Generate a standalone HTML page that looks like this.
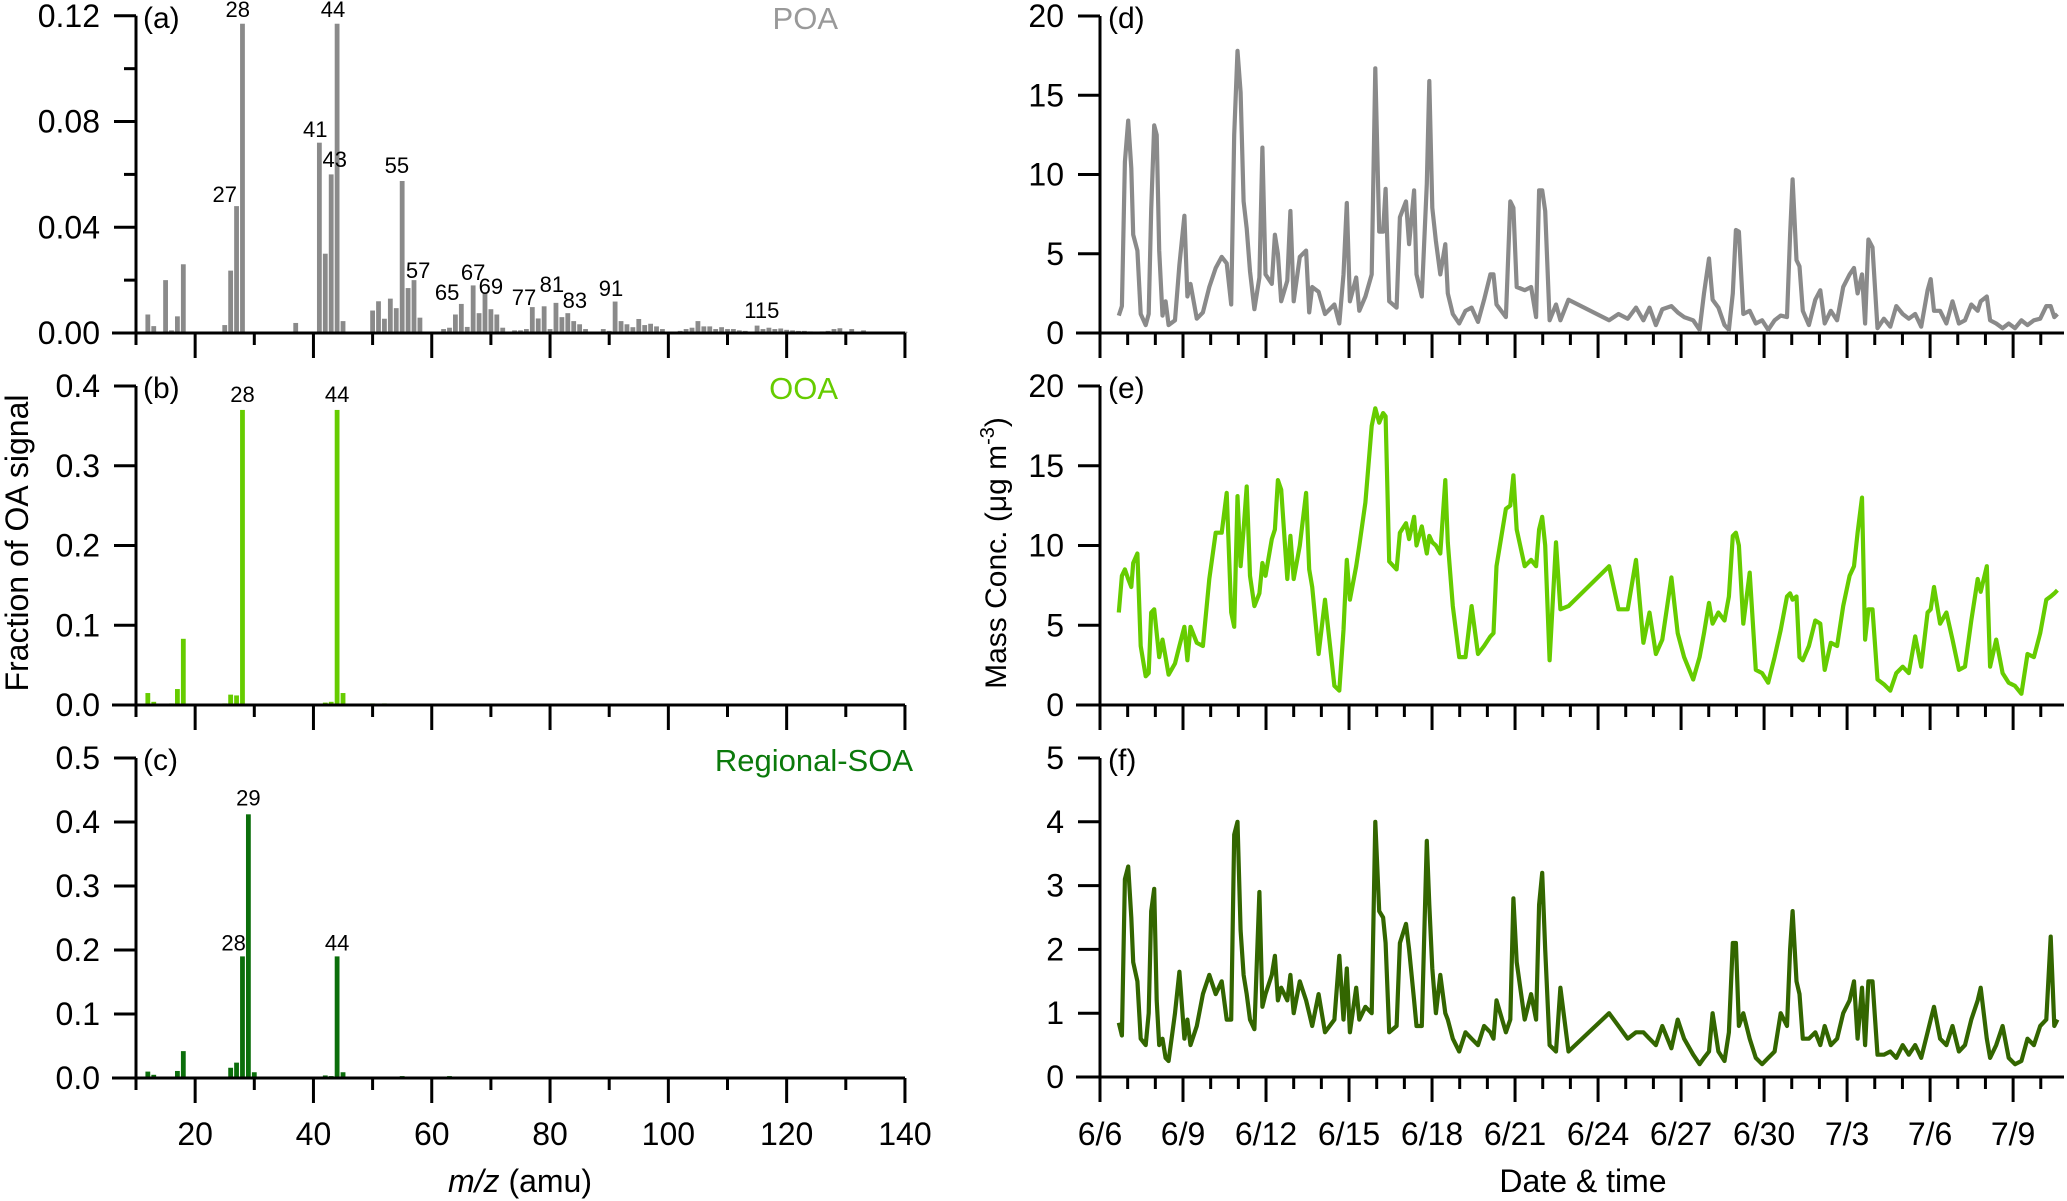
<!DOCTYPE html>
<html><head><meta charset="utf-8"><style>
html,body{margin:0;padding:0;background:#fff}
svg{display:block}
text{font-family:"Liberation Sans",Arial,sans-serif}
</style></head><body>
<svg id="fig" width="2067" height="1201" viewBox="0 0 2067 1201" xmlns="http://www.w3.org/2000/svg"></svg>
<script>
// ---------- data: mass spectra (m/z 12..140) ----------
const mzStart = 12;
const poaValues = [.007,.0026,.0003,.020,.001,.0063,.026,0,0,0,0,0,.0005,.003,.0236,.048,.117,0,0,0,0,0,0,0,0,.0038,0,0,0,.072,.030,.060,.117,.0045,0,0,.0005,.0005,.0085,.012,.0054,.013,.0094,.0575,.017,.020,.0058,.0005,.0005,.0005,.0015,.002,.007,.011,.0023,.018,.0075,.015,.009,.007,.002,.0005,.001,.001,.0015,.0098,.0055,.0101,.0015,.0114,.006,.0075,.0045,.0033,.0015,.0004,.0005,.0015,.0008,.0119,.0045,.0033,.0022,.0053,.003,.0035,.0025,.0015,.0003,.0004,.0008,.0015,.002,.0045,.0025,.0025,.0015,.0022,.0015,.0015,.001,.0008,.0005,.0028,.0015,.002,.0015,.0017,.0012,.001,.0008,.0008,.0006,.0005,.0006,.0008,.0015,.0018,.0005,.0015,.0004,.001,.0005,.0005,.0005,.0005,.0005,.0005,.0005];
const ooaValues = [.015,.004,0,0,.002,.02,.083,0,0,0,0,0,0,.002,.013,.012,.37,0,.001,0,0,0,0,0,0,0,0,0,0,0,.003,.004,.37,.015,0,0,0,.001,.002,0,.002,.001,.001,0,0,.001,0,0,0,0,0,.001,0,0,0,.001];
const soaValues = [.01,.005,0,0,0,.011,.042,0,0,0,0,0,0,0,.016,.024,.19,.412,.009,0,0,0,0,0,0,0,0,0,0,0,.004,.003,.19,.009,0,0,0,.002,0,0,0,.002,0,.003,0,0,0,0,0,0,0,.003];
// bar labels: text, m/z position, label baseline value
const poaLabelText = ["28","44","27","41","43","55","57","65","67","69","77","81","83","91","115"];
const poaLabelMz   = [27.2,43.3,25.0,40.3,43.6,54.1,57.7,62.6,67.0,70.0,75.6,80.3,84.2,90.3,115.8];
const poaLabelVal  = [.1196,.1196,.0496,.0742,.0628,.0605,.0208,.0125,.020,.0148,.0106,.0155,.0095,.014,.0057];
const ooaLabelText = ["28","44"], ooaLabelMz=[28,44], ooaLabelVal=[.38,.38];
const soaLabelText = ["29","28","44"], soaLabelMz=[29,26.5,44], soaLabelVal=[.426,.199,.199];

// ---------- data: time series (days since 6/6 00:00) ----------
const tDays = [0.68,0.79,0.90,1.02,1.13,1.20,1.35,1.47,1.65,1.76,1.85,1.96,2.05,2.14,2.26,2.37,2.48,2.71,2.87,3.05,3.16,3.27,3.50,3.72,3.95,4.18,4.40,4.58,4.74,4.85,4.97,5.08,5.19,5.30,5.42,5.58,5.76,5.87,5.98,6.21,6.32,6.43,6.55,6.77,6.88,7.00,7.22,7.45,7.56,7.67,7.90,8.13,8.47,8.65,8.80,8.92,9.03,9.26,9.37,9.59,9.82,9.95,10.09,10.23,10.32,10.45,10.72,10.84,11.06,11.17,11.35,11.44,11.63,11.81,11.90,12.01,12.14,12.30,12.48,12.57,12.75,12.98,13.21,13.43,13.66,13.88,14.11,14.22,14.33,14.67,14.83,14.94,15.06,15.35,15.58,15.76,15.87,15.98,16.09,16.25,16.48,16.64,16.93,18.40,18.74,19.07,19.37,19.64,19.86,20.09,20.32,20.65,20.88,21.11,21.44,21.67,21.83,22.01,22.14,22.35,22.57,22.73,22.87,22.98,23.09,23.25,23.48,23.70,23.93,24.15,24.38,24.60,24.83,24.94,25.03,25.17,25.28,25.40,25.62,25.85,26.03,26.19,26.41,26.64,26.86,27.09,27.25,27.38,27.54,27.65,27.77,27.92,28.10,28.33,28.56,28.78,29.01,29.23,29.46,29.68,29.91,30.02,30.14,30.36,30.59,30.81,31.04,31.26,31.49,31.72,31.83,32.05,32.17,32.39,32.62,32.84,33.07,33.30,33.52,33.75,33.98,34.20,34.36,34.49,34.60];
const poaConc = [1.1,1.7,10.8,13.4,10.4,6.2,5.2,1.2,0.5,1.2,7.8,13.1,12.5,5.2,1.1,2.0,0.5,0.8,4.3,7.4,2.3,3.1,0.9,1.3,2.9,4.1,4.8,4.4,1.8,12.5,17.8,15.2,8.3,6.6,3.9,1.5,3.5,11.7,3.7,3.1,6.2,5.0,2.0,3.3,7.7,2.0,4.8,5.2,1.3,2.9,2.6,1.2,1.8,0.6,3.7,8.2,2.0,3.5,1.4,2.3,3.7,16.7,6.4,6.4,9.1,2.0,1.6,7.3,8.3,5.6,9.0,3.7,2.3,9.4,15.9,7.9,5.8,3.7,5.6,2.5,1.2,0.6,1.4,1.6,0.7,2.1,3.7,3.7,1.8,1.0,8.3,7.9,2.9,2.7,2.9,1.0,9.0,9.0,7.7,0.8,1.8,0.8,2.1,0.8,1.2,0.9,1.6,0.8,1.6,0.5,1.5,1.7,1.3,1.0,0.8,0.2,2.5,4.7,2.1,1.6,0.5,0.2,2.5,6.5,6.4,1.2,1.4,0.6,0.8,0.2,0.8,1.1,1.0,6.2,9.7,4.6,4.2,1.4,0.5,2.1,2.7,0.6,1.4,0.8,2.9,3.7,4.1,2.5,3.7,0.6,5.9,5.4,0.3,0.9,0.4,1.7,1.2,0.9,1.2,0.4,2.7,3.4,1.4,1.4,0.6,2.0,0.6,0.8,1.8,1.4,2.0,2.3,0.8,0.6,0.3,0.6,0.3,0.8,0.5,0.8,0.9,1.7,1.7,1.0,1.2];
const ooaConc = [5.8,8.1,8.5,7.9,7.4,8.9,9.5,3.7,1.8,2.0,5.8,6.0,4.5,3.0,4.1,3.0,1.9,2.6,3.7,4.9,2.8,4.9,3.9,3.7,7.9,10.8,10.8,13.3,5.8,4.9,13.1,8.7,11.0,13.7,8.1,6.2,7.0,8.9,8.1,10.4,11.0,14.1,13.5,7.9,10.6,7.9,10.0,13.3,8.5,7.4,3.2,6.6,1.2,0.9,4.7,9.1,6.6,8.7,10.0,12.7,17.5,18.6,17.7,18.3,18.1,9.0,8.5,10.8,11.4,10.4,11.8,10.0,11.2,9.5,10.6,10.2,10.0,9.5,14.1,10.2,6.2,3.0,3.0,6.2,3.2,3.7,4.3,4.5,8.7,12.3,12.5,14.4,11.0,8.7,9.1,8.7,11.0,11.8,10.0,2.8,10.2,6.0,6.2,8.7,6.0,6.0,9.1,3.9,5.8,3.2,4.1,8.0,4.5,3.0,1.6,3.0,4.5,6.4,5.1,5.8,5.3,6.8,10.6,10.8,10.0,5.1,8.3,2.2,2.0,1.4,3.0,4.7,6.8,7.0,6.6,6.8,3.0,2.8,3.7,5.3,5.1,2.2,3.9,3.7,6.2,8.1,8.7,10.8,13.0,4.1,6.0,6.0,1.6,1.3,0.9,2.0,2.4,2.0,4.3,2.4,5.8,6.0,7.4,5.1,5.8,4.1,2.2,2.4,5.3,7.9,7.1,8.7,2.4,4.1,2.0,1.4,1.2,0.7,3.2,3.0,4.5,6.6,6.8,7.0,7.2];
const soaConc = [0.85,0.65,3.1,3.3,2.5,1.8,1.5,0.6,0.5,1.0,2.6,2.95,1.2,0.5,0.6,0.3,0.25,1.0,1.65,0.6,0.9,0.5,0.8,1.3,1.6,1.3,1.5,0.9,0.9,3.8,4.0,2.3,1.6,1.3,0.9,0.75,2.9,1.1,1.3,1.6,1.9,1.2,1.4,1.2,1.6,1.0,1.5,1.2,1.0,0.8,1.3,0.7,0.9,1.9,0.9,1.7,0.7,1.4,0.9,1.1,1.0,4.0,2.6,2.5,2.1,0.7,0.8,2.1,2.4,2.0,1.2,0.8,0.8,3.7,2.7,1.7,1.0,1.6,1.0,0.9,0.6,0.4,0.7,0.6,0.5,0.8,0.7,0.6,1.2,0.7,0.9,2.8,1.8,0.9,1.3,0.9,2.7,3.2,2.0,0.5,0.4,1.4,0.4,1.0,0.8,0.6,0.7,0.7,0.6,0.5,0.8,0.45,0.9,0.6,0.35,0.2,0.3,0.4,1.0,0.4,0.25,0.7,2.1,2.1,0.8,1.0,0.6,0.3,0.2,0.3,0.4,1.0,0.8,2.0,2.6,1.5,1.3,0.6,0.6,0.7,0.5,0.8,0.5,0.6,1.0,1.2,1.5,0.6,1.4,0.5,1.5,1.5,0.35,0.35,0.4,0.3,0.5,0.35,0.5,0.3,0.7,0.9,1.1,0.6,0.5,0.8,0.4,0.5,0.9,1.2,1.4,0.6,0.3,0.5,0.8,0.3,0.2,0.25,0.6,0.5,0.8,0.9,2.2,0.8,0.9];
const dateLabels = ["6/6","6/9","6/12","6/15","6/18","6/21","6/24","6/27","6/30","7/3","7/6","7/9"];

// ---------- drawing ----------
const NS = "http://www.w3.org/2000/svg";
const svg = document.getElementById("fig");
function mk(tag, attrs, parent) {
  const e = document.createElementNS(NS, tag);
  for (const k in attrs) e.setAttribute(k, attrs[k]);
  (parent || svg).appendChild(e);
  return e;
}
function txt(str, attrs, parent) { const e = mk("text", attrs, parent); e.textContent = str; return e; }

const xL = m => 136 + (m - 10) * 5.915;
const xR = t => 1100 + t * 27.67;

const leftPanels = [
  {id:"a", y0:333, y1:15.8, max:0.12, ticks:[0,0.04,0.08,0.12], tickLabels:["0.00","0.04","0.08","0.12"], minor:[0.02,0.06,0.10], vals:poaValues, color:"#8a8a8a", name:"POA", nameColor:"#999999", nameX:838, lt:poaLabelText, lm:poaLabelMz, lv:poaLabelVal},
  {id:"b", y0:705, y1:386, max:0.4, ticks:[0,0.1,0.2,0.3,0.4], tickLabels:["0.0","0.1","0.2","0.3","0.4"], minor:[], vals:ooaValues, color:"#66cc00", name:"OOA", nameColor:"#66cc00", nameX:838, lt:ooaLabelText, lm:ooaLabelMz, lv:ooaLabelVal},
  {id:"c", y0:1078, y1:758, max:0.5, ticks:[0,0.1,0.2,0.3,0.4,0.5], tickLabels:["0.0","0.1","0.2","0.3","0.4","0.5"], minor:[], vals:soaValues, color:"#0b6e0b", name:"Regional-SOA", nameColor:"#0b7a0b", nameX:913, lt:soaLabelText, lm:soaLabelMz, lv:soaLabelVal}
];

leftPanels.forEach((p, pi) => {
  const g = mk("g", {});
  
  
  const yv = v => p.y0 - v / p.max * (p.y0 - p.y1);
  p.vals.forEach((v, i) => {
    if (v <= 0) return;
    const r = mk("rect", {x: xL(mzStart + i) - 2.4, y: yv(v), width: 4.8, height: p.y0 - yv(v), fill: p.color}, g);
    
    
  });
  const ax = mk("path", {d: `M112 ${p.y0}H905M136 ${p.y0}V${p.y1}`, stroke: "#000", "stroke-width": 3, fill: "none"}, g);
  
  
  p.ticks.forEach((v, i) => {
    mk("line", {x1: 114, x2: 136, y1: yv(v), y2: yv(v), stroke: "#000", "stroke-width": 3}, g);
    const t = txt(p.tickLabels[i], {x: 100, y: yv(v) + 11, "text-anchor": "end", "font-size": 32}, g);
    
    
  });
  p.minor.forEach(v => mk("line", {x1: 124, x2: 136, y1: yv(v), y2: yv(v), stroke: "#000", "stroke-width": 3}, g));
  for (let m = 10; m <= 140; m += 10) {
    const len = (m % 20 === 0) ? 25 : 12;
    mk("line", {x1: xL(m), x2: xL(m), y1: p.y0, y2: p.y0 + len, stroke: "#000", "stroke-width": 3}, g);
    if (pi === 2 && m % 20 === 0) {
      const t = txt(String(m), {x: xL(m), y: 1145, "text-anchor": "middle", "font-size": 32}, g);
      
      
    }
  }
  p.lt.forEach((s, i) => {
    const t = txt(s, {x: xL(p.lm[i]), y: yv(p.lv[i]), "text-anchor": "middle", "font-size": 22}, g);
    
    
  });
  const pl = txt("(" + p.id + ")", {x: 143, y: p.y1 + 12, "font-size": 30}, g);
  
  
  const nm = txt(p.name, {x: p.nameX, y: p.y1 + 13, "text-anchor": "end", "font-size": 31, fill: p.nameColor}, g);
  
  
});

const rightPanels = [
  {id:"d", y0:333, y1:16, max:20, ticks:[0,5,10,15,20], vals:poaConc, color:"#8a8a8a"},
  {id:"e", y0:705, y1:386, max:20, ticks:[0,5,10,15,20], vals:ooaConc, color:"#66cc00"},
  {id:"f", y0:1077, y1:758, max:5, ticks:[0,1,2,3,4,5], vals:soaConc, color:"#336600"}
];
rightPanels.forEach((p, pi) => {
  const g = mk("g", {});
  
  
  const yv = v => p.y0 - v / p.max * (p.y0 - p.y1);
  const ax = mk("path", {d: `M1076 ${p.y0}H2064M1100 ${p.y0}V${p.y1}`, stroke: "#000", "stroke-width": 3, fill: "none"}, g);
  
  
  p.ticks.forEach(v => {
    mk("line", {x1: 1078, x2: 1100, y1: yv(v), y2: yv(v), stroke: "#000", "stroke-width": 3}, g);
    const t = txt(String(v), {x: 1064, y: yv(v) + 11, "text-anchor": "end", "font-size": 32}, g);
    
    
  });
  for (let d = 0; d <= 34; d++) {
    const len = (d % 3 === 0) ? 25 : 12;
    mk("line", {x1: xR(d), x2: xR(d), y1: p.y0, y2: p.y0 + len, stroke: "#000", "stroke-width": 3}, g);
  }
  if (pi === 2) dateLabels.forEach((s, i) => {
    const t = txt(s, {x: xR(i * 3), y: 1145, "text-anchor": "middle", "font-size": 32}, g);
    
    
  });
  const d = p.vals.map((v, i) => (i ? "L" : "M") + xR(tDays[i]).toFixed(1) + " " + yv(v).toFixed(1)).join("");
  const line = mk("path", {d: d, stroke: p.color, "stroke-width": 4.2, fill: "none", "stroke-linejoin": "round"}, g);
  
  
  const pl = txt("(" + p.id + ")", {x: 1108, y: p.y1 + 12, "font-size": 30}, g);
  
  
});
</script>
<svg style="position:absolute;left:0;top:0" width="2067" height="1201">
  <text x="0" y="0" transform="translate(28,543) rotate(-90)" text-anchor="middle" font-size="32" font-family="Liberation Sans, sans-serif">Fraction of OA signal</text>
  <text x="0" y="0" transform="translate(1006,553) rotate(-90)" text-anchor="middle" font-size="30" font-family="Liberation Sans, sans-serif">Mass Conc. (μg m<tspan dy="-12" font-size="20">-3</tspan><tspan dy="12">)</tspan></text>
  <text x="520" y="1192" text-anchor="middle" font-size="32" font-family="Liberation Sans, sans-serif"><tspan font-style="italic">m/z</tspan> (amu)</text>
  <text x="1583" y="1192" text-anchor="middle" font-size="32" font-family="Liberation Sans, sans-serif">Date &amp; time</text>
</svg>
</body></html>
